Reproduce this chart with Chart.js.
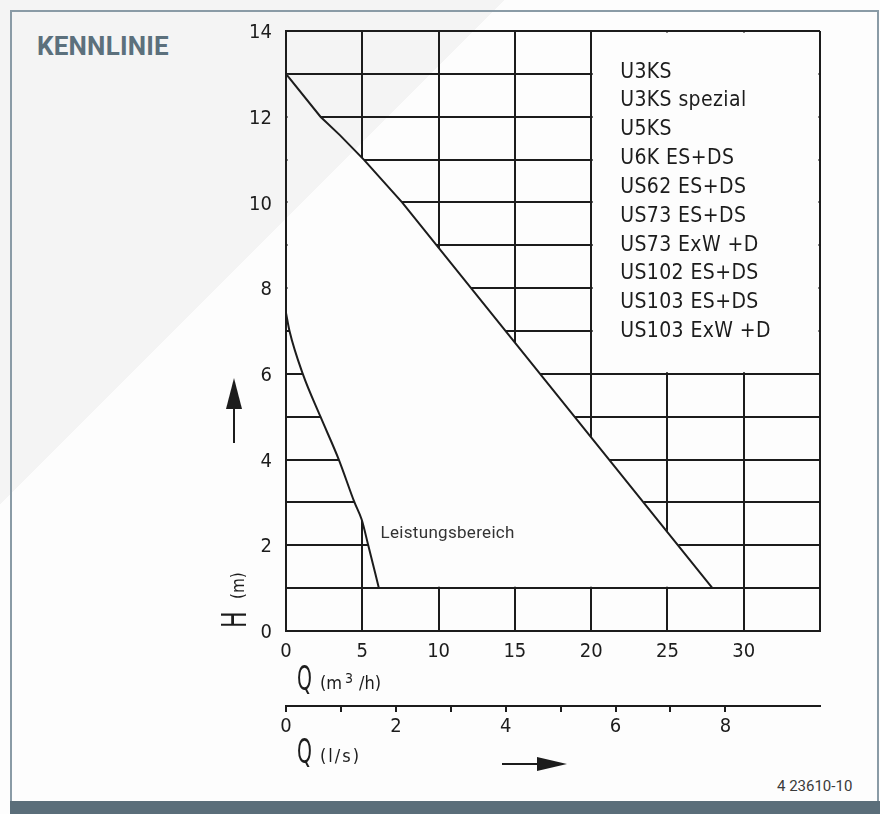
<!DOCTYPE html>
<html>
<head>
<meta charset="utf-8">
<script src="https://cdn.jsdelivr.net/npm/chart.js@4.4.0/dist/chart.umd.min.js"></script>
<style>
html,body{margin:0;padding:0;}
body{width:880px;height:814px;position:relative;overflow:hidden;
  background:linear-gradient(135deg,#f4f4f4 0,#f4f4f4 357px,#fdfdfd 357px,#fdfdfd 100%);}
#frame{position:absolute;left:10px;top:10px;width:865px;height:789px;border:2px solid #8a9ba6;border-bottom:none;}
#band{position:absolute;left:10px;top:801px;width:870px;height:13px;background:#5b6e7a;}
#title{position:absolute;left:37px;top:31px;font:bold 26px Roboto,"Noto Sans",sans-serif;color:#5c707c;letter-spacing:0.2px;}
#code{position:absolute;left:777px;top:777px;font:15px Roboto,"Noto Sans",sans-serif;color:#3a3a3a;}
#wrap{position:absolute;left:0;top:0;width:880px;height:814px;}
</style>
</head>
<body>
<div id="frame"></div>
<div id="band"></div>
<div id="title">KENNLINIE</div>
<div id="code">4 23610-10</div>
<div id="wrap"><canvas id="c" width="880" height="814"></canvas></div>
<script>
// ---- data ----
const xTicksM3h = [0, 5, 10, 15, 20, 25, 30];
const xTicksLs = [0, 2, 4, 6, 8];
const yTicksH = [0, 2, 4, 6, 8, 10, 12, 14];
const models = ["U3KS", "U3KS spezial", "U5KS", "U6K ES+DS", "US62 ES+DS",
  "US73 ES+DS", "US73 ExW +D", "US102 ES+DS", "US103 ES+DS", "US103 ExW +D"];
// lower limit curve of the performance range (Q in m3/h, H in m)
const leftQ = [0, 0.23, 1.10, 2.26, 3.46, 4.49, 4.96, 5.39, 6.09];
const leftH = [7.42, 7.0, 6.0, 5.0, 4.0, 3.0, 2.6, 2.0, 1.0];
// upper limit curve of the performance range
const rightQ = [0, 2.26, 3.53, 5.10, 7.61, 27.95];
const rightH = [13, 12, 11.57, 11.0, 10.0, 1.0];
const areaLabel = "Leistungsbereich";
const M3H_PER_LS = 3.6;

// ---- style ----
const INK = '#1c1c1c';
const TECH = '"Liberation Sans Narrow","DejaVu Sans Condensed",sans-serif';
const UI = 'Roboto,"Noto Sans",sans-serif';
const Q_MAX = 35, H_MAX = 14;
const BOX_Q = 20, BOX_H = 6;

function glyph(ctx, txt, x, y, size, sx) {
  ctx.save(); ctx.translate(x, y); ctx.scale(sx, 1);
  ctx.font = size + 'px ' + TECH; ctx.fillText(txt, 0, 0); ctx.restore();
}

const sheet = {
  id: 'sheet',
  beforeDraw(chart) {
    const {ctx, scales: {x, y}} = chart;
    const X = v => x.getPixelForValue(v), Y = v => y.getPixelForValue(v);
    const x0 = X(0) + 1.5, yb = Y(1) - 1.5;
    const py = h => h <= 1 ? yb : Y(h);
    ctx.save();
    ctx.beginPath();
    ctx.rect(0, 0, chart.width, chart.height);
    ctx.moveTo(x0, Y(leftH[0]));
    for (let i = 1; i < leftQ.length; i++) ctx.lineTo(X(leftQ[i]), py(leftH[i]));
    for (let i = rightQ.length - 1; i >= 1; i--) ctx.lineTo(X(rightQ[i]), py(rightH[i]));
    ctx.lineTo(x0, Y(rightH[0]));
    ctx.closePath();
    const bx0 = X(BOX_Q) + 1.5, bx1 = X(Q_MAX) - 1.5, by0 = Y(H_MAX) + 1.5, by1 = Y(BOX_H) - 1.5;
    ctx.moveTo(bx0, by0); ctx.lineTo(bx1, by0); ctx.lineTo(bx1, by1); ctx.lineTo(bx0, by1); ctx.closePath();
    ctx.clip('evenodd');
  },
  beforeDatasetsDraw(chart) { chart.ctx.restore(); },
  afterDraw(chart) {
    const {ctx, scales: {x, y}} = chart;
    const X = v => x.getPixelForValue(v), Y = v => y.getPixelForValue(v);
    ctx.save();
    ctx.fillStyle = INK; ctx.strokeStyle = INK;
    ctx.textAlign = 'left'; ctx.textBaseline = 'alphabetic';
    // model list
    ctx.font = '21px ' + TECH;
    ctx.letterSpacing = '0.4px';
    const lx = X(BOX_Q) + 29;
    models.forEach((m, i) => ctx.fillText(m, lx, 77.5 + 28.85 * i));
    ctx.letterSpacing = '0.3px';
    // area label
    ctx.font = '17px ' + UI; ctx.fillStyle = '#333';
    ctx.fillText(areaLabel, X(6.2), Y(2.3) + 6);
    ctx.letterSpacing = '0px';
    ctx.fillStyle = INK;
    // x axis titles
    const qx = X(0) + 11;
    glyph(ctx, 'Q', qx, 690, 34, 0.62);
    ctx.font = '18px ' + TECH; ctx.fillText('(m', qx + 23, 689);
    ctx.font = '14px ' + TECH; ctx.fillText('3', qx + 48, 683);
    ctx.font = '18px ' + TECH; ctx.fillText('/h)', qx + 62, 689);
    glyph(ctx, 'Q', qx, 763, 34, 0.62);
    ctx.letterSpacing = '2px';
    ctx.font = '18px ' + TECH; ctx.fillText('(l/s)', qx + 23, 762);
    ctx.letterSpacing = '0px';
    // right arrow
    ctx.lineWidth = 2;
    ctx.beginPath(); ctx.moveTo(502, 764); ctx.lineTo(545, 764); ctx.stroke();
    ctx.beginPath(); ctx.moveTo(567, 764); ctx.lineTo(537, 757); ctx.lineTo(537, 771); ctx.closePath(); ctx.fill();
    // up arrow
    ctx.beginPath(); ctx.moveTo(234, 443); ctx.lineTo(234, 400); ctx.stroke();
    ctx.beginPath(); ctx.moveTo(234, 378); ctx.lineTo(226, 409); ctx.lineTo(242, 409); ctx.closePath(); ctx.fill();
    // H (m)
    ctx.save(); ctx.translate(246, 628); ctx.rotate(-Math.PI / 2);
    glyph(ctx, 'H', 0, 0, 34, 0.72);
    ctx.font = '17px ' + TECH; ctx.fillText('(m)', 29, -2);
    ctx.restore();
    ctx.restore();
  }
};

new Chart(document.getElementById('c'), {
  type: 'scatter',
  data: {
    datasets: [
      { label: 'min', data: leftQ.map((q, i) => ({x: q, y: leftH[i]})), cubicInterpolationMode: 'monotone' },
      { label: 'max', data: rightQ.map((q, i) => ({x: q, y: rightH[i]})) }
    ]
  },
  options: {
    responsive: false, animation: false, devicePixelRatio: 1,
    layout: {padding: {left: 226, top: 31, right: 60, bottom: 40}},
    elements: {
      line: {borderColor: INK, borderWidth: 2, tension: 0, fill: false},
      point: {radius: 0, hoverRadius: 0}
    },
    datasets: {scatter: {showLine: true}},
    plugins: {legend: {display: false}, tooltip: {enabled: false}},
    events: [],
    scales: {
      x: {
        type: 'linear', position: 'bottom', weight: 1, min: 0, max: Q_MAX,
        ticks: {stepSize: 5, autoSkip: false, maxRotation: 0, padding: 9, color: INK,
          font: {family: TECH, size: 20},
          callback: v => xTicksM3h.includes(v) ? String(v) : ''},
        grid: {color: INK, lineWidth: 2, drawTicks: false},
        border: {color: INK, width: 2},
        afterFit: s => { s.height = 75; }
      },
      x2: {
        type: 'linear', position: 'bottom', weight: 2, min: 0, max: Q_MAX / M3H_PER_LS,
        ticks: {stepSize: 1, autoSkip: false, maxRotation: 0, padding: 3, color: INK,
          font: {family: TECH, size: 20},
          callback: v => xTicksLs.includes(v) ? String(v) : ''},
        afterBuildTicks: s => { s.ticks = s.ticks.filter(t => Number.isInteger(t.value)); },
        grid: {drawOnChartArea: false, drawTicks: true, tickLength: 6, color: INK, lineWidth: 2},
        border: {color: INK, width: 2},
        afterFit: s => { s.height = 68; }
      },
      y: {
        type: 'linear', min: 0, max: H_MAX,
        ticks: {stepSize: 1, autoSkip: false, padding: 14, color: INK, labelOffset: 2,
          font: {family: TECH, size: 20},
          callback: v => yTicksH.includes(v) ? String(v) : ''},
        grid: {color: INK, lineWidth: 2, drawTicks: false},
        border: {color: INK, width: 2},
        afterFit: s => { s.width = 60; }
      }
    }
  },
  plugins: [sheet]
});
</script>
</body>
</html>
